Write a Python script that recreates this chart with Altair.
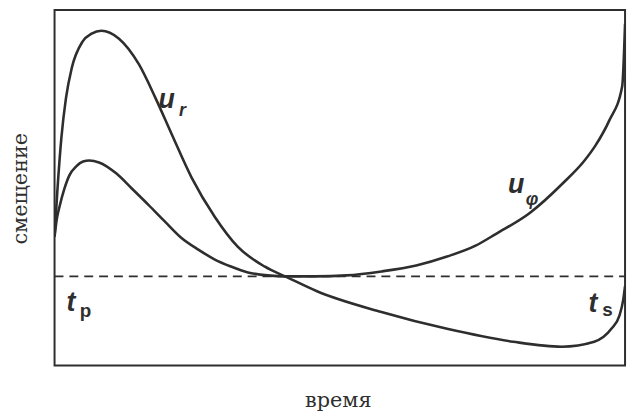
import altair as alt
import pandas as pd

# time (0..100 % of window), displacement (arbitrary units, 0 = dashed baseline)
ur_t = [0, 0.5, 1.2, 2.0, 3.0, 4.9, 6.5, 8.2, 11.3, 14.8, 17.7, 20.5, 24.0, 28.1, 32.1, 36.8,
        40.8, 46.0, 57.3, 68.8, 80.4, 88.9, 94.6, 97.6, 99.0, 99.7, 100]
ur_v = [40, 87, 140, 180, 210, 237, 245, 248, 240, 214, 180, 144, 100, 60, 30, 10,
        -1, -15, -36, -53, -66, -71, -66, -53, -40, -23, -10]

uf_t = [0, 0.4, 0.9, 1.7, 2.6, 3.8, 5.0, 6.1, 7.8, 10.8, 13.5, 16.5, 19.4, 22.2, 25.2,
        28.1, 30.9, 33.9, 37.3, 40.8, 45.7, 51.2, 57.3, 63.4, 68.8, 73.8, 77.4,
        83.3, 89.1, 92.9, 94.8, 97.2, 99.5, 100]
uf_v = [40, 58, 71, 88, 102, 111, 116, 117, 115, 104, 89, 72, 55, 39, 27,
        17, 10, 4, 1, 0, 0, 1, 5, 11, 20, 31, 43,
        64, 94, 117, 132, 157, 192, 255]

# labels: main letter and subscript
lab_main = ["u", "u", "t", "t"]
lab_main_t = [18.2, 79.5, 2.1, 93.6]
lab_main_v = [170, 84, -35, -36]
lab_sub = ["r", "φ", "p", "s"]
lab_sub_t = [21.8, 82.6, 4.4, 96.0]
lab_sub_v = [162, 72, -41, -40]
lab_sub_style = ["italic", "italic", "normal", "normal"]

X_TITLE = "время"
Y_TITLE = "смещение"

curves = pd.DataFrame(
    {"t": ur_t + uf_t, "v": ur_v + uf_v,
     "s": ["u_r"] * len(ur_t) + ["u_phi"] * len(uf_t)}
)
mains = pd.DataFrame({"t": lab_main_t, "v": lab_main_v, "txt": lab_main})
subs = pd.DataFrame({"t": lab_sub_t, "v": lab_sub_v, "txt": lab_sub, "st": lab_sub_style})
base_df = pd.DataFrame({"t": [0], "t2": [100], "v": [0]})

ink = "#2e2e2e"
xs = alt.Scale(domain=[0, 100], nice=False, zero=False)
ys = alt.Scale(domain=[-90, 269], nice=False, zero=False)

xax = alt.Axis(title=X_TITLE, labels=False, ticks=False, domain=False, grid=False,
               titleFont="DejaVu Serif", titleFontSize=21, titleFontWeight="normal",
               titleColor=ink, titleX=286, titleY=41, titleBaseline="alphabetic",
               titleAlign="center")
yax = alt.Axis(title=Y_TITLE, labels=False, ticks=False, domain=False, grid=False,
               titleFont="DejaVu Serif", titleFontSize=21, titleFontWeight="normal",
               titleColor=ink, titleX=-28, titleY=180, titleAngle=-90,
               titleBaseline="alphabetic", titleAlign="center")

lines = alt.Chart(curves).mark_line(
    color=ink, strokeWidth=2.6, interpolate="monotone", clip=True
).encode(
    x=alt.X("t:Q", scale=xs, axis=xax),
    y=alt.Y("v:Q", scale=ys, axis=yax),
    detail="s:N",
    order="t:Q",
)

baseline = alt.Chart(base_df).mark_rule(
    color=ink, strokeWidth=1.6, strokeDash=[9, 6]
).encode(x=alt.X("t:Q", scale=xs), x2="t2:Q", y=alt.Y("v:Q", scale=ys))

main_txt = alt.Chart(mains).mark_text(
    font="Liberation Sans", fontSize=27, fontWeight="bold", fontStyle="italic",
    align="left", baseline="alphabetic", color=ink
).encode(x=alt.X("t:Q", scale=xs), y=alt.Y("v:Q", scale=ys), text="txt:N")

sub_it = alt.Chart(subs).transform_filter(alt.datum.st == "italic").mark_text(
    font="Liberation Sans", fontSize=18, fontWeight="bold", fontStyle="italic",
    align="left", baseline="alphabetic", color=ink
).encode(x=alt.X("t:Q", scale=xs), y=alt.Y("v:Q", scale=ys), text="txt:N")

sub_up = alt.Chart(subs).transform_filter(alt.datum.st == "normal").mark_text(
    font="Liberation Sans", fontSize=19, fontWeight="bold",
    align="left", baseline="alphabetic", color=ink
).encode(x=alt.X("t:Q", scale=xs), y=alt.Y("v:Q", scale=ys), text="txt:N")

chart = alt.layer(lines, baseline, main_txt, sub_it, sub_up).properties(
    width=576, height=359,
    autosize=alt.AutoSizeParams(type="none"),
    padding={"left": 47, "top": 0, "right": 5, "bottom": 45},
    background="white",
).configure_view(stroke=ink, strokeWidth=2)

chart.save("out.html", embed_options={"renderer": "svg", "actions": False})
